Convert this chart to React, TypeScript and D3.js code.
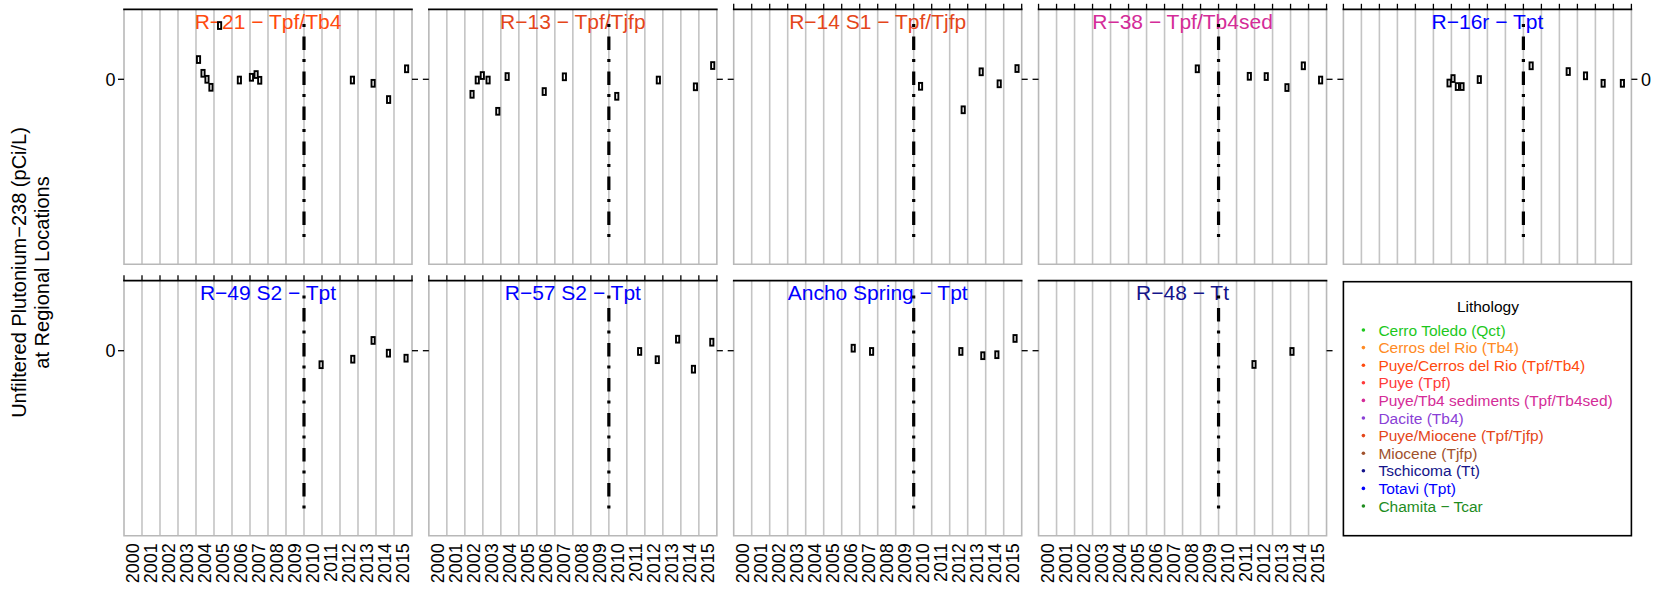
import React from "react";
import * as d3 from "d3";

// ---------- data ----------
const YEAR_LABELS = ["2000","2001","2002","2003","2004","2005","2006","2007","2008","2009","2010","2011","2012","2013","2014","2015"];
const Y_TICKS = [0];
const REF_YEAR = 2010;
const REF_RANGE = [-0.636, 0.215];

const R21_DATES = [2004.14, 2004.39, 2004.61, 2004.83, 2005.31, 2006.41, 2007.08, 2007.34, 2007.54, 2012.69, 2013.84, 2014.70, 2015.70];
const R21_VALUES = [0.079, 0.024, 0.0, -0.032, 0.215, -0.003, 0.008, 0.019, -0.004, -0.003, -0.016, -0.081, 0.042];

const R13_DATES = [2002.40, 2002.69, 2002.97, 2003.29, 2003.83, 2004.35, 2006.41, 2007.53, 2010.44, 2012.75, 2014.81, 2015.77];
const R13_VALUES = [-0.060, -0.003, 0.015, -0.003, -0.128, 0.011, -0.049, 0.010, -0.068, -0.003, -0.030, 0.055];

const R14_DATES = [2010.38, 2012.75, 2013.75, 2014.75, 2015.74];
const R14_VALUES = [-0.028, -0.122, 0.030, -0.018, 0.043];

const R38_DATES = [2008.82, 2011.71, 2012.65, 2013.80, 2014.71, 2015.67];
const R38_VALUES = [0.042, 0.012, 0.011, -0.033, 0.054, -0.003];

const R16R_DATES = [2005.87, 2006.09, 2006.33, 2006.59, 2007.55, 2010.43, 2012.49, 2013.45, 2014.43, 2015.50];
const R16R_VALUES = [-0.015, 0.003, -0.029, -0.029, -0.001, 0.054, 0.031, 0.014, -0.016, -0.016];

const R49_DATES = [2010.95, 2012.71, 2013.84, 2014.69, 2015.67];
const R49_VALUES = [-0.056, -0.034, 0.041, -0.010, -0.030];

const R57_DATES = [2011.71, 2012.69, 2013.82, 2014.70, 2015.72];
const R57_VALUES = [-0.003, -0.036, 0.046, -0.074, 0.034];

const ANCHO_DATES = [2006.64, 2007.66, 2012.62, 2013.84, 2014.62, 2015.63];
const ANCHO_VALUES = [0.010, -0.003, -0.003, -0.020, -0.016, 0.049];

const R48_DATES = [2011.97, 2014.08];
const R48_VALUES = [-0.055, -0.003];

const PANEL_TITLES = ["R−21 − Tpf/Tb4", "R−13 − Tpf/Tjfp", "R−14 S1 − Tpf/Tjfp", "R−38 − Tpf/Tb4sed", "R−16r − Tpt",
  "R−49 S2 − Tpt", "R−57 S2 − Tpt", "Ancho Spring − Tpt", "R−48 − Tt"];
const PANEL_COLORS = ["#FF4A0E", "#E4461A", "#E4461A", "#D42C98", "#0000FF", "#0000FF", "#0000FF", "#0000FF", "#14148A"];
const PANEL_DATES = [R21_DATES, R13_DATES, R14_DATES, R38_DATES, R16R_DATES, R49_DATES, R57_DATES, ANCHO_DATES, R48_DATES];
const PANEL_VALUES = [R21_VALUES, R13_VALUES, R14_VALUES, R38_VALUES, R16R_VALUES, R49_VALUES, R57_VALUES, ANCHO_VALUES, R48_VALUES];

const LEGEND_LABELS = ["Cerro Toledo (Qct)", "Cerros del Rio (Tb4)", "Puye/Cerros del Rio (Tpf/Tb4)", "Puye (Tpf)",
  "Puye/Tb4 sediments (Tpf/Tb4sed)", "Dacite (Tb4)", "Puye/Miocene (Tpf/Tjfp)", "Miocene (Tjfp)", "Tschicoma (Tt)",
  "Totavi (Tpt)", "Chamita − Tcar"];
const LEGEND_COLORS = ["#1DC81D", "#FF8A24", "#FF4A0E", "#FF3A3A", "#D42C98", "#8A3FD6", "#E4461A", "#A0522D", "#14148A",
  "#0000FF", "#1E8C1E"];

// ---------- layout ----------
const W = 1658, H = 594;
const FONT = "'Liberation Sans', Arial, Helvetica, sans-serif";
const COL_LEFT = 124, COL_STEP = 304.85, PANEL_W = 288, PANEL_H = 255;
const ROW_TOP = [9.3, 280.7];
const GRID = "#c4c4c4";

function Panel({ idx }: { idx: number }) {
  const row = idx < 5 ? 0 : 1;
  const col = idx % 5;
  const left = COL_LEFT + col * COL_STEP;
  const top = ROW_TOP[row];
  const x = d3.scaleLinear().domain([2000, 2016]).range([left, left + PANEL_W]);
  const y = d3.scaleLinear().domain([-0.74, 0.28]).range([top + PANEL_H, top]);
  const gridYears = d3.range(2001, 2016);
  const tickYears = d3.range(2000, 2017);
  const topTicks = [2, 3, 4, 5, 6].includes(idx);
  const dates = PANEL_DATES[idx];
  const vals = PANEL_VALUES[idx];
  return (
    <g>
      {gridYears.map((yr) => (
        <line key={yr} x1={x(yr)} x2={x(yr)} y1={top} y2={top + PANEL_H} stroke={GRID} strokeWidth={1.6} />
      ))}
      <path d={`M${left},${top}V${top + PANEL_H}H${left + PANEL_W}V${top}`} fill="none" stroke="#b8b8b8" strokeWidth={1.6} />
      <line x1={left - 0.8} x2={left + PANEL_W + 0.8} y1={top} y2={top} stroke="#000" strokeWidth={1.8} />
      {topTicks && tickYears.map((yr) => (
        <line key={"t" + yr} x1={x(yr)} x2={x(yr)} y1={top} y2={top - 5.5} stroke="#000" strokeWidth={1.3} />
      ))}
      {Y_TICKS.map((v) => (
        <g key={"y" + v}>
          <line x1={left - 6} x2={left} y1={y(v)} y2={y(v)} stroke="#000" strokeWidth={1.3} />
          <line x1={left + PANEL_W} x2={left + PANEL_W + 6} y1={y(v)} y2={y(v)} stroke="#000" strokeWidth={1.3} />
          {col === 0 && (
            <text x={left - 8.5} y={y(v)} dy="0.36em" textAnchor="end" fontSize={18} fontFamily={FONT}>{v}</text>
          )}
          {idx === 4 && (
            <text x={left + PANEL_W + 9.5} y={y(v)} dy="0.36em" textAnchor="start" fontSize={18} fontFamily={FONT}>{v}</text>
          )}
        </g>
      ))}
      {row === 1 && YEAR_LABELS.map((lab) => {
        const cx = x(+lab + 0.5);
        const ty = top + PANEL_H + 7.5;
        return (
          <text key={lab} transform={`translate(${cx},${ty}) rotate(-90)`} dy="0.36em" textAnchor="end" fontSize={18} fontFamily={FONT}>{lab}</text>
        );
      })}
      <text x={left + PANEL_W / 2} y={top + 19.3} textAnchor="middle" fontSize={21} fontFamily={FONT} fill={PANEL_COLORS[idx]}>{PANEL_TITLES[idx]}</text>
      <line x1={x(REF_YEAR)} x2={x(REF_YEAR)} y1={y(REF_RANGE[1]) - 1.5} y2={y(REF_RANGE[0]) + 1.5} stroke="#000" strokeWidth={3.2}
        strokeDasharray="3 9.5 13.5 9" />
      {dates.map((d, i) => (
        <rect key={"p" + i} x={x(d) - 1.6} y={y(vals[i]) - 3.4} width={3.2} height={6.8} fill="#fff" stroke="#000" strokeWidth={1.9} />
      ))}
    </g>
  );
}

function Legend() {
  const left = COL_LEFT + 4 * COL_STEP;
  const top = ROW_TOP[1] + 1;
  const ly = d3.scaleLinear().domain([0, 1]).range([330, 347.6]);
  return (
    <g fontFamily={FONT}>
      <rect x={left} y={top} width={PANEL_W} height={PANEL_H - 1} fill="#fff" stroke="#000" strokeWidth={1.6} />
      <text x={left + PANEL_W / 2 + 0.5} y={306} dy="0.36em" textAnchor="middle" fontSize={15.5}>Lithology</text>
      {LEGEND_LABELS.map((lab, i) => (
        <g key={lab}>
          <circle cx={left + 20} cy={ly(i)} r={1.8} fill={LEGEND_COLORS[i]} />
          <text x={left + 35} y={ly(i)} dy="0.36em" fontSize={15.5} fill={LEGEND_COLORS[i]}>{lab}</text>
        </g>
      ))}
    </g>
  );
}

export default function App() {
  const midY = (ROW_TOP[0] + ROW_TOP[1] + PANEL_H) / 2;
  return (
    <svg width={W} height={H} style={{ position: "absolute", left: 0, top: 0, background: "#fff" }}>
      <rect width={W} height={H} fill="#fff" />
      {PANEL_TITLES.map((_, i) => <Panel key={i} idx={i} />)}
      <Legend />
      <text transform={`translate(26,${midY}) rotate(-90)`} textAnchor="middle" fontSize={20} fontFamily={FONT}>Unfiltered Plutonium−238 (pCi/L)</text>
      <text transform={`translate(49,${midY}) rotate(-90)`} textAnchor="middle" fontSize={20} fontFamily={FONT}>at Regional Locations</text>
    </svg>
  );
}
